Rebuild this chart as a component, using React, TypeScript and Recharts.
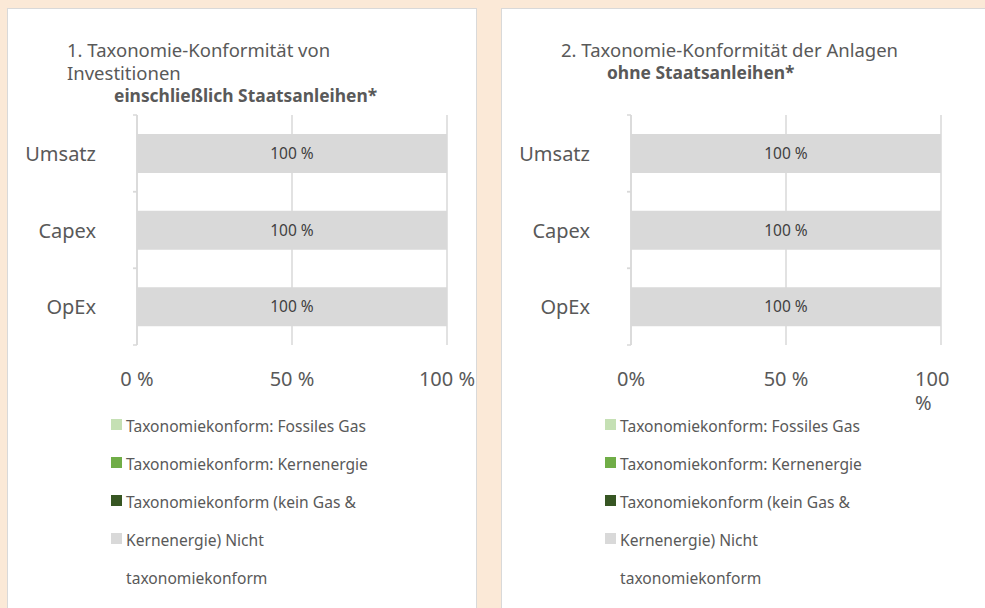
import { BarChart, Bar, XAxis, YAxis, CartesianGrid, LabelList } from "recharts";

// Werte aus der Grafik: alles 100 % nicht taxonomiekonform
const KATEGORIEN = ["Umsatz", "Capex", "OpEx"];
const FOSSILES_GAS = [0, 0, 0];
const KERNENERGIE = [0, 0, 0];
const KEIN_GAS_KERN = [0, 0, 0];
const NICHT_KONFORM_INKL = [100, 100, 100];
const NICHT_KONFORM_OHNE = [100, 100, 100];

const X_TICKS = [0, 50, 100];
const X_LABELS_1 = ["0 %", "50 %", "100 %"];
const X_LABELS_2 = ["0%", "50 %", "100\n%"];

const FARBEN = ["#C5E0B4", "#70AD47", "#375623", "#D9D9D9"];
const LEGENDE_ZEILEN = [
  "Taxonomiekonform: Fossiles Gas",
  "Taxonomiekonform: Kernenergie",
  "Taxonomiekonform (kein Gas &",
  "Kernenergie) Nicht",
  "taxonomiekonform",
];

const FONT = "'Noto Sans', 'Open Sans', sans-serif";
const TEXT = "#595959";
const GRID = "#D9D9D9";

// Plotfläche im Panel
const PLOT_LEFT = 129;
const PLOT_TOP = 106;
const PLOT_W = 310;
const PLOT_H = 230;
const BAND = PLOT_H / KATEGORIEN.length;

function baueDaten(nicht: number[]) {
  return KATEGORIEN.map((k, i) => ({
    kategorie: k,
    gas: FOSSILES_GAS[i],
    kern: KERNENERGIE[i],
    rest: KEIN_GAS_KERN[i],
    nicht: nicht[i],
  }));
}

const YTick = ({ y, payload }: any) => (
  <g>
    <line x1={PLOT_LEFT - 4} x2={PLOT_LEFT} y1={y - BAND / 2} y2={y - BAND / 2} stroke={GRID} strokeWidth={1.5} />
    <line x1={PLOT_LEFT - 4} x2={PLOT_LEFT} y1={y + BAND / 2} y2={y + BAND / 2} stroke={GRID} strokeWidth={1.5} />
    <text x={PLOT_LEFT - 41} y={y} textAnchor="end" dominantBaseline="central" fontSize={20} fill={TEXT} fontFamily={FONT}>
      {payload.value}
    </text>
  </g>
);

const makeXTick = (labels: string[]) => ({ x, index }: any) => {
  const teile = labels[index].split("\n");
  const ty = PLOT_TOP + PLOT_H + 33;
  if (teile.length > 1) {
    return (
      <text x={x - 26} y={ty} textAnchor="start" dominantBaseline="central" fontSize={20} fill={TEXT} fontFamily={FONT}>
        {teile.map((t, i) => (
          <tspan key={i} x={x - 26} dy={i === 0 ? 0 : 24}>{t}</tspan>
        ))}
      </text>
    );
  }
  return (
    <text x={x} y={ty} textAnchor="middle" dominantBaseline="central" fontSize={20} fill={TEXT} fontFamily={FONT}>
      {teile[0]}
    </text>
  );
};

function Panel({ left, width, titel, fettTitel, fettLeft, xLabels, nicht }: any) {
  const daten = baueDaten(nicht);
  const chartW = Math.min(width, 985 - left);
  return (
    <div
      style={{
        position: "absolute",
        left,
        top: 9,
        width,
        height: 600,
        background: "#fff",
        boxShadow: `0 0 0 1px ${GRID}`,
        fontFamily: FONT,
        color: TEXT,
      }}
    >
      <div style={{ position: "absolute", left: 59, top: 29, fontSize: 18.5, lineHeight: "23px", whiteSpace: "nowrap" }}>
        {titel.map((t: string) => (
          <div key={t}>{t}</div>
        ))}
        <div style={{ marginLeft: fettLeft - 59, fontWeight: 700, fontSize: 17.4 }}>{fettTitel}</div>
      </div>

      <div style={{ position: "absolute", left: 0, top: 0 }}>
        <BarChart
          width={chartW}
          height={420}
          data={daten}
          layout="vertical"
          margin={{ top: PLOT_TOP, right: chartW - PLOT_LEFT - PLOT_W, bottom: 420 - PLOT_TOP - PLOT_H - 40, left: 0 }}
          barSize={39}
        >
          <CartesianGrid horizontal={false} stroke={GRID} strokeWidth={1.5} />
          <XAxis
            type="number"
            domain={[0, 100]}
            ticks={X_TICKS}
            height={40}
            axisLine={false}
            tickLine={false}
            tick={makeXTick(xLabels)}
            interval={0}
          />
          <YAxis
            type="category"
            dataKey="kategorie"
            width={PLOT_LEFT}
            axisLine={{ stroke: GRID, strokeWidth: 1.5 }}
            tickLine={false}
            tick={<YTick />}
          />
          <Bar dataKey="gas" stackId="a" fill={FARBEN[0]} isAnimationActive={false} />
          <Bar dataKey="kern" stackId="a" fill={FARBEN[1]} isAnimationActive={false} />
          <Bar dataKey="rest" stackId="a" fill={FARBEN[2]} isAnimationActive={false} />
          <Bar dataKey="nicht" stackId="a" fill={FARBEN[3]} isAnimationActive={false}>
            <LabelList
              dataKey="nicht"
              position="center"
              formatter={(v: any) => `${v} %`}
              fill="#404040"
              fontSize={15.5}
              fontFamily={FONT}
            />
          </Bar>
        </BarChart>
      </div>

      <div style={{ position: "absolute", left: 103, top: 398, fontSize: 15.6, lineHeight: "38px", whiteSpace: "nowrap" }}>
        {LEGENDE_ZEILEN.map((z, i) => (
          <div key={z} style={{ display: "flex", alignItems: "center" }}>
            <span
              style={{
                display: "inline-block",
                width: 11,
                height: 11,
                marginRight: 4,
                marginTop: -3,
                background: i < FARBEN.length ? FARBEN[i] : "transparent",
              }}
            />
            <span>{z}</span>
          </div>
        ))}
      </div>
    </div>
  );
}

export default function App() {
  return (
    <div style={{ position: "absolute", left: 0, top: 0, width: 985, height: 608, background: "#FBE9D7", overflow: "hidden" }}>
      <Panel
        left={8}
        width={468}
        titel={["1. Taxonomie-Konformität von", "Investitionen"]}
        fettTitel="einschließlich Staatsanleihen*"
        fettLeft={106}
        xLabels={X_LABELS_1}
        nicht={NICHT_KONFORM_INKL}
      />
      <Panel
        left={502}
        width={490}
        titel={["2. Taxonomie-Konformität der Anlagen"]}
        fettTitel="ohne Staatsanleihen*"
        fettLeft={105}
        xLabels={X_LABELS_2}
        nicht={NICHT_KONFORM_OHNE}
      />
    </div>
  );
}
